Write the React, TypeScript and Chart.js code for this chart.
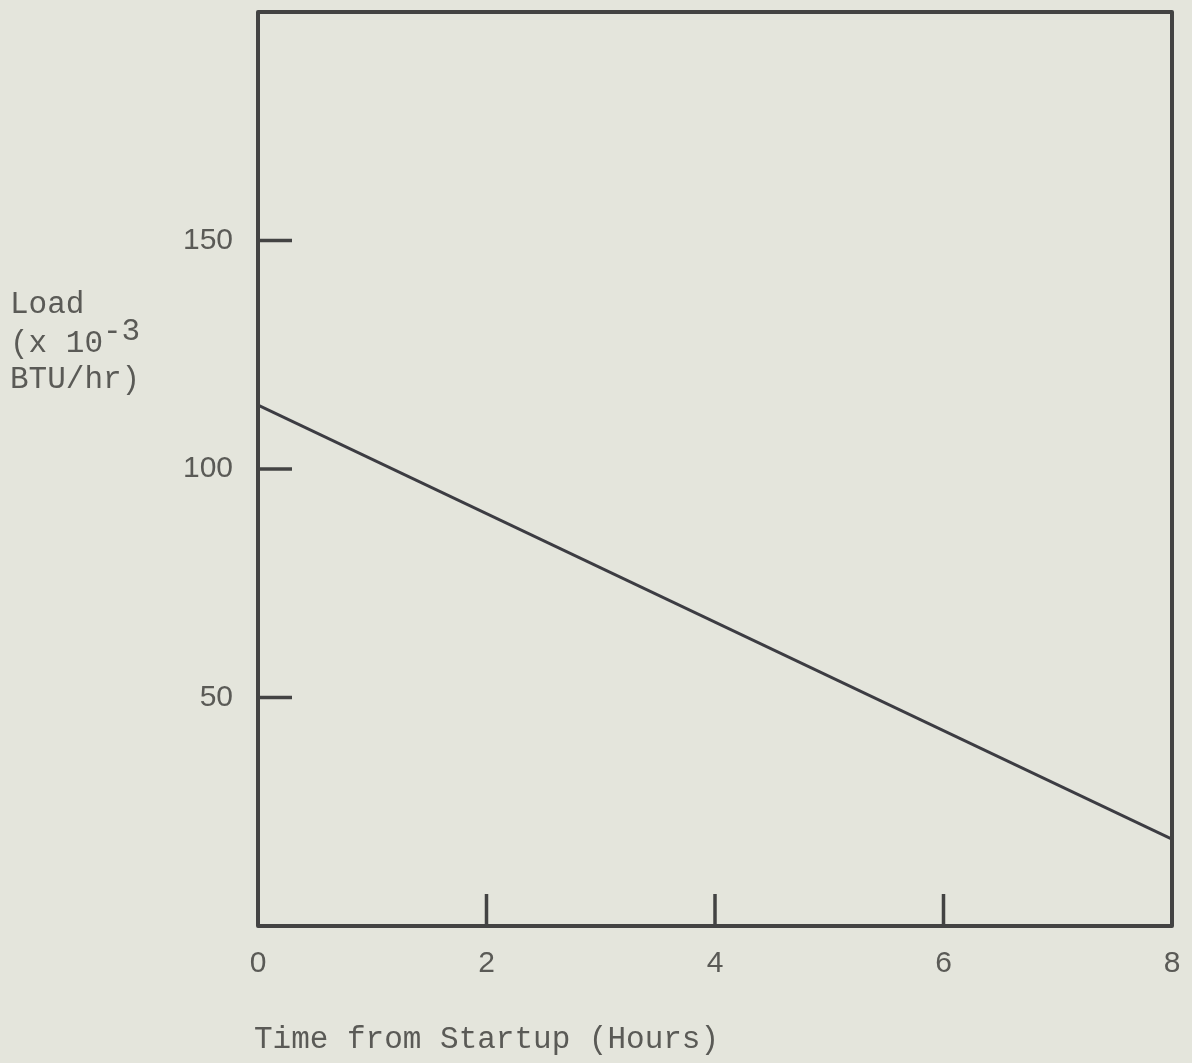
import React, { useEffect, useRef } from "react";
import { Chart, registerables } from "chart.js";

Chart.register(...registerables);

// ---- data ----
const hours = [0, 8];
const loadValues = [114, 19];
const yTickValues = [50, 100, 150];
const xInnerTickValues = [2, 4, 6];
const xAxisTitle = "Time from Startup (Hours)";
const yTitleLines = ["Load", "(x 10", "BTU/hr)"];
const yTitleExponent = "-3";

const BG = "#e4e5dc";
const INK = "#434343";
const TEXT = "#5a5a56";
const MONO = '"Liberation Mono", "DejaVu Sans Mono", monospace';
const SANS = '"Liberation Sans", "DejaVu Sans", sans-serif';

const paperPlugin = {
  id: "paper",
  beforeDraw(chart: any) {
    const { ctx, width, height } = chart;
    ctx.save();
    ctx.fillStyle = BG;
    ctx.fillRect(0, 0, width, height);
    ctx.restore();
  },
  afterDraw(chart: any) {
    const { ctx, chartArea: a, scales } = chart;
    ctx.save();
    // frame
    ctx.strokeStyle = INK;
    ctx.lineWidth = 4;
    ctx.lineJoin = "round";
    ctx.strokeRect(a.left, a.top, a.right - a.left, a.bottom - a.top);
    // inner ticks
    ctx.lineWidth = 3.5;
    ctx.lineCap = "butt";
    yTickValues.forEach((v) => {
      const py = scales.y.getPixelForValue(v);
      ctx.beginPath();
      ctx.moveTo(a.left, py);
      ctx.lineTo(a.left + 34, py);
      ctx.stroke();
    });
    xInnerTickValues.forEach((v) => {
      const px = scales.x.getPixelForValue(v);
      ctx.beginPath();
      ctx.moveTo(px, a.bottom);
      ctx.lineTo(px, a.bottom - 32);
      ctx.stroke();
    });
    // titles
    ctx.fillStyle = TEXT;
    ctx.font = `31px ${MONO}`;
    ctx.textAlign = "left";
    ctx.textBaseline = "alphabetic";
    const baselines = [313, 352, 388];
    yTitleLines.forEach((line, i) => {
      ctx.fillText(line, 10, baselines[i]);
    });
    const w = ctx.measureText(yTitleLines[1]).width;
    ctx.fillText(yTitleExponent, 10 + w, baselines[1] - 12);
    ctx.fillText(xAxisTitle, a.left - 4, 1048);
    ctx.restore();
  },
};

export default function App() {
  const ref = useRef<HTMLCanvasElement | null>(null);
  useEffect(() => {
    if (!ref.current) return;
    const chart = new Chart(ref.current, {
      type: "line",
      data: {
        datasets: [
          {
            data: hours.map((h, i) => ({ x: h, y: loadValues[i] })),
            borderColor: "#3c3c42",
            borderWidth: 3,
            pointRadius: 0,
            tension: 0,
            fill: false,
          },
        ],
      },
      options: {
        animation: false,
        responsive: false,
        maintainAspectRatio: false,
        layout: { padding: { top: 12, right: 20, left: 0, bottom: 0 } },
        plugins: { legend: { display: false }, tooltip: { enabled: false }, title: { display: false } },
        scales: {
          x: {
            type: "linear",
            min: 0,
            max: 8,
            grid: { display: false },
            border: { display: false },
            ticks: {
              stepSize: 2,
              padding: 12,
              color: TEXT,
              font: { family: SANS, size: 30 },
              maxRotation: 0,
            },
            afterFit: (s: any) => {
              s.height = 137;
              s.paddingLeft = 0;
              s.paddingRight = 0;
            },
          },
          y: {
            type: "linear",
            min: 0,
            max: 200,
            grid: { display: false },
            border: { display: false },
            ticks: {
              stepSize: 50,
              padding: 17,
              color: TEXT,
              font: { family: SANS, size: 30 },
              callback: (v: any) => (yTickValues.includes(Number(v)) ? String(v) : ""),
            },
            afterFit: (s: any) => {
              s.width = 258;
              s.paddingTop = 0;
              s.paddingBottom = 0;
            },
          },
        },
      },
      plugins: [paperPlugin],
    });
    return () => chart.destroy();
  }, []);
  return (
    <div style={{ position: "absolute", left: 0, top: 0, width: 1192, height: 1063, background: BG }}>
      <canvas ref={ref} width={1192} height={1063} style={{ display: "block" }} />
    </div>
  );
}
